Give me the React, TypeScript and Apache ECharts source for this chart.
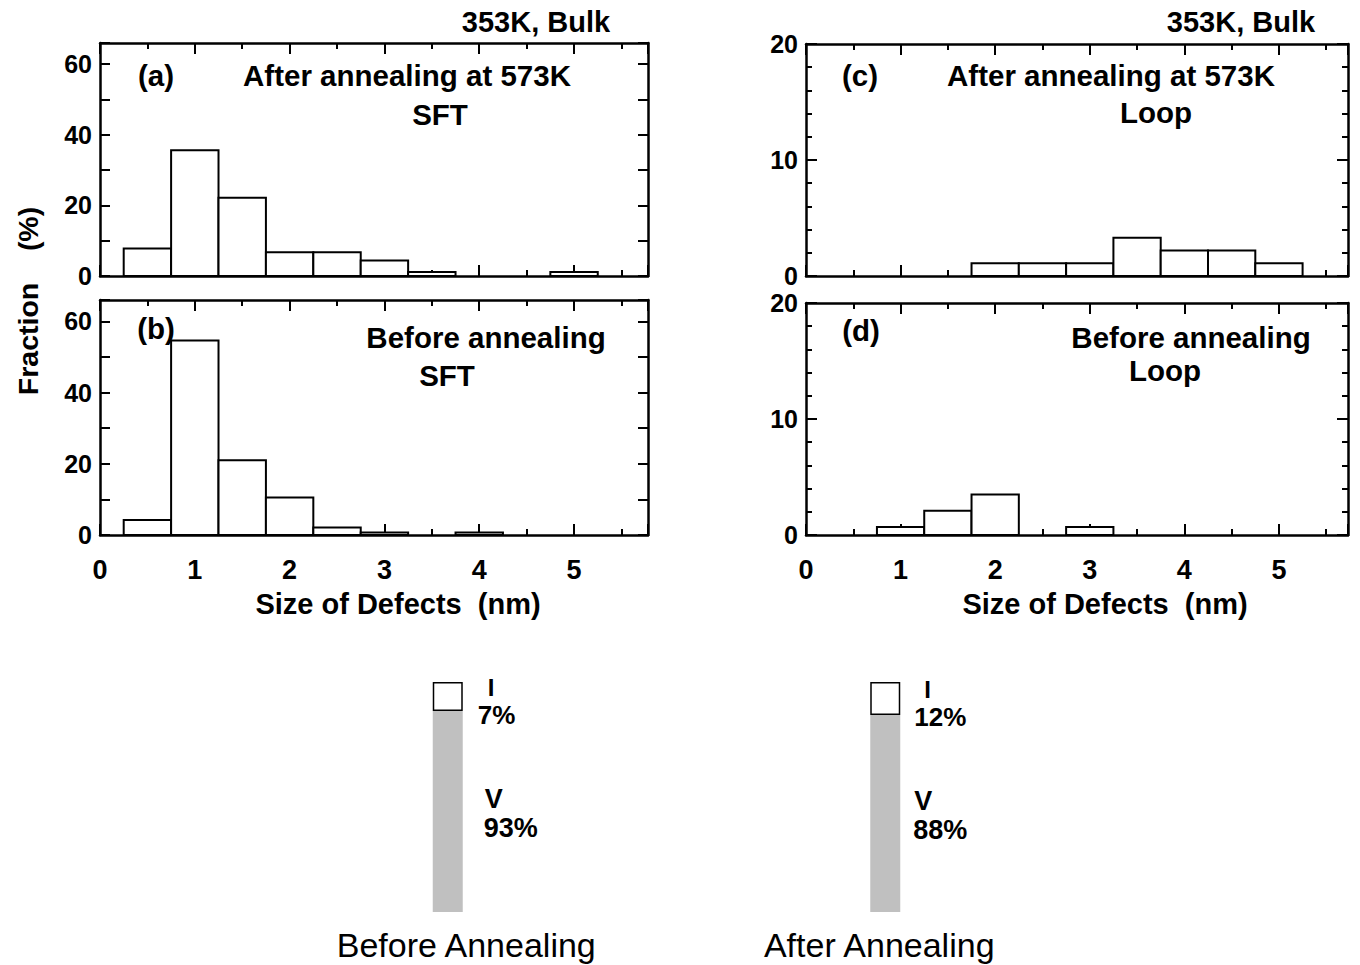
import React, { useEffect, useRef } from "react";
import * as echarts from "echarts";

// ---------- data ----------
const binCenters = [0.5, 1, 1.5, 2, 2.5, 3, 3.5, 4, 4.5, 5];
const binHalfWidth = 0.25;
const sftAfter = [7.8, 35.6, 22.2, 6.7, 6.7, 4.4, 1.1, 0, 0, 1.1];
const sftBefore = [4.2, 54.6, 21.0, 10.5, 2.1, 0.7, 0, 0.7, 0, 0];
const loopAfter = [0, 0, 0, 1.1, 1.1, 1.1, 3.3, 2.2, 2.2, 1.1];
const loopBefore = [0, 0.7, 2.1, 3.5, 0, 0.7, 0, 0, 0, 0];

const xTickValues = [0, 1, 2, 3, 4, 5];
const sftYTicks = [0, 20, 40, 60];
const loopYTicks = [0, 10, 20];

const stateCategories = ["Before Annealing", "After Annealing"];
// bar segment heights as drawn in the picture (share of the column)
const interstitialDrawn = [12.6, 14.3];
const vacancyDrawn = [87.4, 85.7];
const interstitialLabels = ["7%", "12%"];
const vacancyLabels = ["93%", "88%"];

// ---------- styles ----------
const FONT = '"Liberation Sans", Arial, Helvetica, sans-serif';
const BLACK = "#000";

type Panel = {
  values: number[];
  left: number;
  top: number;
  width: number;
  height: number;
  xMax: number;
  yMax: number;
  yMinor: number;
  yMajor: number;
  yLabels: number[];
  showX: boolean;
};

const panels: Panel[] = [
  { values: sftAfter, left: 100, top: 43, width: 548, height: 233, xMax: 5.78, yMax: 66, yMinor: 10, yMajor: 0, yLabels: sftYTicks, showX: false },
  { values: sftBefore, left: 100, top: 300, width: 548, height: 235, xMax: 5.78, yMax: 66, yMinor: 10, yMajor: 0, yLabels: sftYTicks, showX: true },
  { values: loopAfter, left: 806, top: 44, width: 542, height: 232, xMax: 5.73, yMax: 20, yMinor: 2, yMajor: 10, yLabels: loopYTicks, showX: false },
  { values: loopBefore, left: 806, top: 303, width: 542, height: 232, xMax: 5.73, yMax: 20, yMinor: 2, yMajor: 10, yLabels: loopYTicks, showX: true },
];

function buildOption() {
  const grids: any[] = [];
  const xAxes: any[] = [];
  const yAxes: any[] = [];
  const series: any[] = [];

  panels.forEach((p, g) => {
    grids.push({ left: p.left, top: p.top, width: p.width, height: p.height, containLabel: false });

    const xAxis = (position: string, interval: number, len: number, withLine: boolean, withLabel: boolean) => ({
      type: "value",
      gridIndex: g,
      position,
      min: 0,
      max: p.xMax,
      interval,
      axisLine: { show: withLine, onZero: false, lineStyle: { color: BLACK, width: 2.5 } },
      axisTick: { show: true, inside: true, length: len, lineStyle: { color: BLACK, width: 2 } },
      axisLabel: {
        show: withLabel,
        margin: 21,
        color: BLACK,
        fontFamily: FONT,
        fontSize: 27,
        fontWeight: "bold",
        formatter: (v: number) => (xTickValues.includes(v) ? String(v) : ""),
      },
      splitLine: { show: false },
    });
    const xMainIdx = xAxes.length;
    xAxes.push(xAxis("bottom", 1, 11, true, p.showX));
    xAxes.push(xAxis("bottom", 0.5, 6, false, false));
    xAxes.push(xAxis("top", 1, 11, true, false));
    xAxes.push(xAxis("top", 0.5, 6, false, false));

    const yAxis = (position: string, interval: number, len: number, withLine: boolean, withLabel: boolean) => ({
      type: "value",
      gridIndex: g,
      position,
      min: 0,
      max: p.yMax,
      interval,
      axisLine: { show: withLine, onZero: false, lineStyle: { color: BLACK, width: 2.5 } },
      axisTick: { show: true, inside: true, length: len, lineStyle: { color: BLACK, width: 2 } },
      axisLabel: {
        show: withLabel,
        margin: 8,
        color: BLACK,
        fontFamily: FONT,
        fontSize: 25,
        lineHeight: 22,
        fontWeight: "bold",
        formatter: (v: number) => (p.yLabels.includes(v) ? String(v) : ""),
      },
      splitLine: { show: false },
    });
    const yMainIdx = yAxes.length;
    if (p.yMajor > 0) {
      yAxes.push(yAxis("left", p.yMajor, 11, true, true));
      yAxes.push(yAxis("left", p.yMinor, 6, false, false));
      yAxes.push(yAxis("right", p.yMajor, 11, true, false));
      yAxes.push(yAxis("right", p.yMinor, 6, false, false));
    } else {
      yAxes.push(yAxis("left", p.yMinor, 10, true, true));
      yAxes.push(yAxis("right", p.yMinor, 10, true, false));
    }

    series.push({
      type: "custom",
      coordinateSystem: "cartesian2d",
      xAxisIndex: xMainIdx,
      yAxisIndex: yMainIdx,
      z: 3,
      data: binCenters.map((c, i) => [c, p.values[i]]),
      renderItem: (_params: any, api: any) => {
        const x = api.value(0);
        const y = api.value(1);
        if (!(y > 0)) return null;
        const a = api.coord([x - binHalfWidth, y]);
        const b = api.coord([x + binHalfWidth, 0]);
        return {
          type: "rect",
          shape: { x: a[0], y: a[1], width: b[0] - a[0], height: b[1] - a[1] },
          style: { fill: "#fff", stroke: BLACK, lineWidth: 2 },
        };
      },
    });
  });

  // bottom stacked columns
  const gi = grids.length;
  grids.push({ left: 229, top: 682, width: 875, height: 230, containLabel: false });
  xAxes.push({
    type: "category",
    gridIndex: gi,
    data: stateCategories,
    axisLine: { show: false },
    axisTick: { show: false },
    axisLabel: {
      color: BLACK,
      fontFamily: FONT,
      fontSize: 34,
      margin: 16,
      formatter: (v: string, i: number) => (i === 0 ? `{l|${v}}` : `{r|${v}}`),
      rich: {
        l: { fontFamily: FONT, fontSize: 34, color: BLACK, padding: [0, 0, 0, 37] },
        r: { fontFamily: FONT, fontSize: 34, color: BLACK, padding: [0, 12, 0, 0] },
      },
    },
  });
  yAxes.push({ type: "value", gridIndex: gi, min: 0, max: 100, show: false, splitLine: { show: false } });
  const bx = xAxes.length - 1;
  const by = yAxes.length - 1;

  const vDist = [21, 13];
  const iDist = [15, 14];

  series.push({
    type: "bar",
    xAxisIndex: bx,
    yAxisIndex: by,
    stack: "total",
    barWidth: 30,
    data: vacancyDrawn.map((v, i) => ({ value: v, label: { distance: vDist[i] } })),
    itemStyle: { color: "#c0c0c0", borderWidth: 0 },
    label: {
      show: true,
      position: "right",
      offset: [0, 2],
      formatter: (pr: any) => `{a|V}\n{b|${vacancyLabels[pr.dataIndex]}}`,
      rich: {
        a: { fontFamily: FONT, fontSize: 27, fontWeight: "bold", color: BLACK, lineHeight: 29, padding: [0, 0, 0, 1] },
        b: { fontFamily: FONT, fontSize: 27, fontWeight: "bold", color: BLACK, lineHeight: 29 },
      },
    },
  });
  series.push({
    type: "bar",
    xAxisIndex: bx,
    yAxisIndex: by,
    stack: "total",
    barWidth: 30,
    data: interstitialDrawn.map((v, i) => ({ value: v, label: { distance: iDist[i] } })),
    itemStyle: { color: "#fff", borderColor: BLACK, borderWidth: 1.5 },
    label: {
      show: true,
      position: "right",
      offset: [0, 5],
      formatter: (pr: any) => `{a|I}\n{b|${interstitialLabels[pr.dataIndex]}}`,
      rich: {
        a: { fontFamily: FONT, fontSize: 24, fontWeight: "bold", color: BLACK, lineHeight: 28, padding: [0, 0, 0, 10] },
        b: { fontFamily: FONT, fontSize: 26, fontWeight: "bold", color: BLACK, lineHeight: 28 },
      },
    },
  });

  const txt = (text: string, x: number, y: number, size = 29.5, rotation = 0) => ({
    type: "text",
    x,
    y,
    rotation,
    style: { text, fill: BLACK, font: `bold ${size}px ${FONT}`, align: "center", verticalAlign: "middle" },
    z: 10,
  });

  const graphic = [
    txt("353K, Bulk", 536, 22, 29),
    txt("353K, Bulk", 1241, 22, 29),
    txt("(a)", 156, 75),
    txt("After annealing at 573K", 407, 75),
    txt("SFT", 440, 114),
    txt("(b)", 156, 328),
    txt("Before annealing", 486, 337),
    txt("SFT", 447, 375),
    txt("(c)", 860, 75),
    txt("After annealing at 573K", 1111, 75),
    txt("Loop", 1156, 112),
    txt("(d)", 861, 330),
    txt("Before annealing", 1191, 337),
    txt("Loop", 1165, 370),
    txt("Size of Defects  (nm)", 398, 604, 29),
    txt("Size of Defects  (nm)", 1105, 604, 29),
    txt("Fraction    (%)", 28, 301, 28.5, Math.PI / 2),
  ];

  return {
    animation: false,
    backgroundColor: "#fff",
    grid: grids,
    xAxis: xAxes,
    yAxis: yAxes,
    series,
    graphic,
  };
}

export default function App() {
  const ref = useRef<HTMLDivElement>(null);
  useEffect(() => {
    if (!ref.current) return;
    const chart = echarts.init(ref.current, undefined, { renderer: "svg" });
    chart.setOption(buildOption() as any);
    return () => chart.dispose();
  }, []);
  return (
    <div
      ref={ref}
      style={{ position: "fixed", left: 0, top: 0, width: 1360, height: 965, background: "#fff" }}
    />
  );
}
